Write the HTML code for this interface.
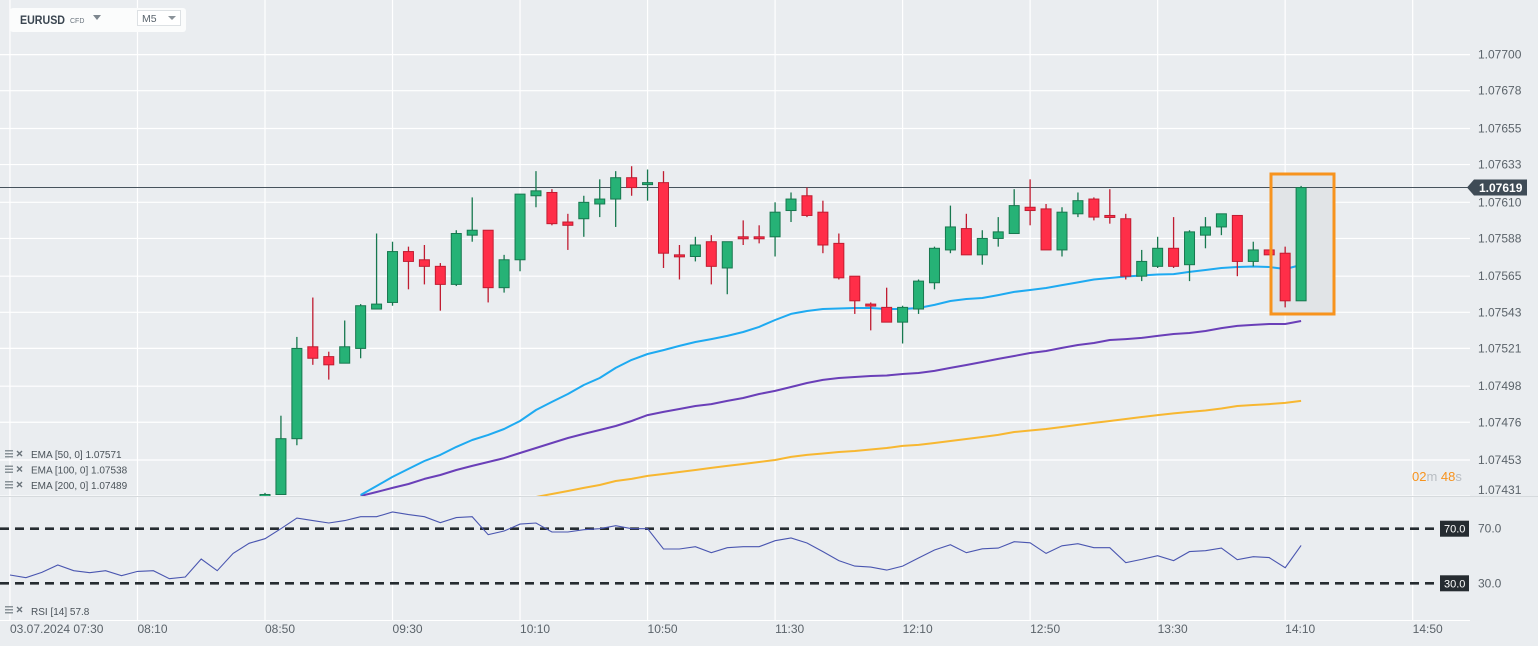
<!DOCTYPE html>
<html><head><meta charset="utf-8"><style>
html,body{margin:0;padding:0;background:#eaedf0;}
svg{display:block;font-family:"Liberation Sans",sans-serif;}
</style></head><body>
<svg id="chart" width="1538" height="646" viewBox="0 0 1538 646">
<rect x="0" y="0" width="1538" height="646" fill="#eaedf0"/>
<defs><clipPath id="pc"><rect x="0" y="0" width="1470" height="496"/></clipPath></defs>
<g id="grid"></g>
<g id="rsiPane"></g>
<g id="pricePane" clip-path="url(#pc)"></g>
<g id="axes"></g>
<g id="header">
  <rect x="10" y="8" width="176" height="24" rx="3" fill="#fbfcfc"/>
  <text x="20" y="24" font-size="12" font-weight="bold" fill="#3a4550" textLength="45" lengthAdjust="spacingAndGlyphs">EURUSD</text>
  <text x="70" y="23" font-size="7" fill="#6a747d">CFD</text>
  <path d="M93 15 L101 15 L97 20 Z" fill="#7d868e"/>
  <rect x="137.5" y="10.5" width="43" height="15" fill="#fff" stroke="#dde1e4"/>
  <text x="142" y="22" font-size="10.5" fill="#5a646d">M5</text>
  <path d="M168 16 L176 16 L172 20 Z" fill="#8a9299"/>
</g>
<g id="legend"></g>
</svg>
<script>
const priceTicks = ["1.07700","1.07678","1.07655","1.07633","1.07610","1.07588","1.07565","1.07543","1.07521","1.07498","1.07476","1.07453","1.07431"];
const timeLabels = ["03.07.2024  07:30","08:10","08:50","09:30","10:10","10:50","11:30","12:10","12:50","13:30","14:10","14:50"];
const timeTickMinutes = [450,490,530,570,610,650,690,730,770,810,850,890];
const candleStartMinute = 530;
const open  = [107431,107432,107466,107522,107516,107512,107521,107545,107549,107580,107575,107571,107560,107590,107593,107558,107575,107614,107616,107598,107600,107609,107612,107625,107621,107622,107578,107577,107586,107570,107589,107589,107589,107605,107614,107604,107585,107565,107548,107546,107537,107545,107561,107581,107594,107578,107588,107591,107607,107606,107581,107603,107612,107602,107600,107565,107571,107582,107572,107590,107595,107602,107574,107581,107579,107550];
const high  = [107433,107480,107528,107552,107519,107538,107548,107591,107586,107583,107584,107573,107593,107613,107593,107578,107615,107629,107618,107603,107614,107624,107629,107632,107630,107629,107584,107589,107590,107586,107599,107596,107610,107616,107619,107611,107591,107565,107549,107558,107547,107563,107583,107608,107603,107593,107601,107618,107624,107609,107607,107616,107613,107618,107603,107581,107589,107601,107593,107601,107603,107602,107586,107581,107583,107620];
const low   = [107431,107432,107462,107511,107502,107512,107515,107545,107547,107557,107560,107544,107559,107586,107549,107555,107568,107607,107596,107581,107589,107601,107595,107614,107611,107570,107563,107574,107560,107554,107584,107585,107577,107598,107601,107579,107563,107542,107532,107537,107524,107542,107557,107579,107578,107572,107583,107591,107596,107581,107577,107601,107599,107597,107563,107562,107570,107570,107562,107582,107590,107565,107571,107578,107546,107550];
const close = [107432,107466,107521,107515,107511,107522,107547,107548,107580,107574,107571,107560,107591,107593,107558,107575,107615,107617,107597,107596,107610,107612,107625,107619,107622,107579,107577,107584,107571,107586,107588,107588,107604,107612,107602,107584,107564,107550,107547,107537,107546,107562,107582,107595,107578,107588,107592,107608,107605,107581,107604,107611,107601,107601,107565,107574,107582,107571,107592,107595,107603,107574,107581,107578,107550,107619];
const ema50 = [null,null,null,null,null,null,107431.7,107437.2,107442.7,107447.6,107452.4,107456.1,107461,107465.2,107468.3,107471.9,107476.8,107483.5,107488.4,107493.2,107498.7,107503,107509.1,107514,107517.6,107520,107522.5,107524.9,107526.7,107528.6,107531,107534.1,107538.3,107542,107543.8,107545,107545.3,107545.6,107545.6,107545,107545,107545.6,107547.5,107549.9,107551.1,107551.7,107553.5,107555.4,107556.6,107557.8,107559.6,107561.2,107563,107563.9,107564.8,107565.4,107566,107566.3,107567.6,107568.8,107570,107570.6,107570.9,107570.6,107569.4,107571.8];
const ema100 = [null,null,null,null,null,null,107431.1,107433.5,107436,107438.4,107441.5,107443.9,107446.9,107449.4,107451.8,107454.2,107457.3,107460.3,107463.4,107466.4,107468.9,107471.3,107473.7,107476.8,107480.4,107482.3,107484.1,107485.9,107487.1,107489,107490.8,107493.2,107495.1,107497.5,107499.9,107501.8,107503,107503.6,107504.2,107504.5,107505.4,107506,107507.3,107509.1,107510.9,107512.7,107514.6,107516.4,107518.2,107519.4,107521.3,107523.1,107524.3,107526.1,107526.7,107527.4,107528.6,107529.8,107530.4,107531.6,107533.4,107534.7,107535.3,107535.9,107535.9,107537.7];
const ema200 = [null,null,null,null,null,null,null,null,null,null,null,null,null,null,null,null,null,107430.5,107432.3,107434.1,107436,107437.8,107440.2,107441.5,107443.3,107444.5,107445.7,107446.9,107448.2,107449.4,107450.6,107451.8,107453,107454.9,107456.1,107457,107457.9,107458.5,107459.4,107460.3,107461.6,107462.2,107463.4,107464.6,107465.8,107467,107468.3,107470.1,107471,107471.9,107473.1,107474.4,107475.6,107476.8,107478,107479.2,107480.4,107481.4,107482.3,107483.2,107484.4,107485.9,107486.5,107487.1,107487.8,107489];
const rsiStartMinute = 450;
const rsi = [36.1,34.1,38,43.4,39.2,37.8,39.2,35.6,38.7,39.2,33.4,34.6,47.8,39.2,51.9,59.3,62.7,70,77.8,75.9,74.2,75.9,78.8,78.8,82.2,80.3,78.8,74.4,78.1,78.8,65.6,68.3,73.4,74.2,67.6,67.6,69.3,70,72.2,70,70,55.1,55.1,56.8,52.4,56.1,56.8,56.8,61.2,63.2,59.5,53.2,46.6,42.6,41.9,39.7,42.6,48.5,54.4,58.3,52.4,55.3,55.8,60.5,59.7,51.9,57.5,59,56.1,56.1,45.1,47.5,50.2,46.6,53.2,53.9,55.8,47.3,49.5,48.8,41.4,57.8];
const rsiLevels = [70, 30];
const lastPrice = 1.07619;
const legendEntries = ["EMA [50, 0] 1.07571","EMA [100, 0] 1.07538","EMA [200, 0] 1.07489"];

const NS = "http://www.w3.org/2000/svg";
function xTime(min){ return 265 + (min - 530) * 3.188; }
function xCandle(i){ return xTime(candleStartMinute + 5*i); }
function yPrice(p){ if (p > 10) p = p/100000; return 54.6 + (1.07700 - p) * 164140; }
function yRsi(r){ return 528.7 + (70 - r) * 1.365; }
function mk(tag, attrs, parent){ const e=document.createElementNS(NS,tag); for(const k in attrs) e.setAttribute(k,attrs[k]); parent.appendChild(e); return e; }

const grid = document.getElementById('grid');
const axes = document.getElementById('axes');
const pp = document.getElementById('pricePane');
const rp = document.getElementById('rsiPane');
const lg = document.getElementById('legend');

priceTicks.forEach((t,i)=>{
  const y = yPrice(parseFloat(t));
  const l = mk('line',{x1:0,x2:1470,y1:y,y2:y,stroke:'#ffffff','stroke-width':1.2},grid);
  
  
  const ty = Math.min(y+4, 494);
  const tx = mk('text',{x:1478,y:ty,'font-size':12,fill:'#5b636a'},axes);
  tx.textContent = t;
  
  
});
timeTickMinutes.forEach((m,i)=>{
  const x = xTime(m);
  const l = mk('line',{x1:x,x2:x,y1:0,y2:620,stroke:'#ffffff','stroke-width':1.2},grid);
  
  
  const tx = mk('text',{x: i===0 ? 10 : x, y:633,'font-size':12,fill:'#5b636a'},axes);
  tx.textContent = timeLabels[i];
  
  
});
const sep = mk('line',{x1:0,x2:1538,y1:496.5,y2:496.5,stroke:'#d6dadd','stroke-width':1},axes);


const bl = mk('line',{x1:0,x2:1470,y1:620.5,y2:620.5,stroke:'#ffffff','stroke-width':1},axes);



const hb = mk('rect',{x:1271,y:174,width:63,height:140,fill:'#e1e4e7'},pp);



const ly = yPrice(lastPrice);
const pl = mk('line',{x1:0,x2:1470,y1:ly,y2:ly,stroke:'#46525c','stroke-width':1},pp);



function drawLine(arr, color, name){
  let d='';
  arr.forEach((v,i)=>{ if(v===null) return; d += (d===''?'M':'L') + xCandle(i).toFixed(1)+' '+yPrice(v).toFixed(1)+' '; });
  const p = mk('path',{d:d,fill:'none',stroke:color,'stroke-width':2,'stroke-linejoin':'round'},pp);
  
  
}
drawLine(ema200,'#f7b731','ema-200-line');
drawLine(ema100,'#6a3fb8','ema-100-line');
drawLine(ema50,'#1eaaf1','ema-50-line');

open.forEach((o,i)=>{
  const c = close[i], h = high[i], lo = low[i];
  const up = c >= o;
  const fill = up ? '#26b276' : '#ff2e48';
  const stroke = up ? '#17784f' : '#c01c31';
  const x = xCandle(i);
  const g = mk('g',{},pp);
  
  
  mk('line',{x1:x,x2:x,y1:yPrice(h),y2:yPrice(lo),stroke:stroke,'stroke-width':1.3},g);
  const yt = yPrice(Math.max(o,c)), yb = yPrice(Math.min(o,c));
  mk('rect',{x:x-5,y:yt,width:10,height:Math.max(yb-yt,2),fill:fill,stroke:stroke,'stroke-width':1},g);
});

const hbb = mk('rect',{x:1271,y:174,width:63,height:140,fill:'none',stroke:'#f7931e','stroke-width':3},pp);



const lpg = mk('g',{},axes);


mk('path',{d:`M1467 ${ly} L1474 ${ly-8} L1527 ${ly-8} L1527 ${ly+8} L1474 ${ly+8} Z`,fill:'#3f4b56'},lpg);
const lpt = mk('text',{x:1479,y:ly+4.5,'font-size':12,'font-weight':'bold',fill:'#ffffff'},lpg);
lpt.textContent = lastPrice.toFixed(5);

const cd = mk('text',{x:1412,y:481,'font-size':13},axes);


cd.innerHTML = '<tspan fill="#f7931e">02</tspan><tspan fill="#b8bdc2">m </tspan><tspan fill="#f7931e">48</tspan><tspan fill="#b8bdc2">s</tspan>';

rsiLevels.forEach(v=>{
  const y = yRsi(v);
  const l = mk('line',{x1:0,x2:1437,y1:y,y2:y,stroke:'#262c31','stroke-width':2.6,'stroke-dasharray':'9 6'},rp);
  
  
  const b = mk('rect',{x:1440,y:y-8,width:29,height:16,fill:'#262c31'},rp);
  
  
  const bt = mk('text',{x:1444,y:y+4,'font-size':11,fill:'#ffffff'},rp);
  bt.textContent = v.toFixed(1);
  
  
  const at = mk('text',{x:1478,y:y+4,'font-size':12,fill:'#5b636a'},rp);
  at.textContent = v.toFixed(1);
  
  
});
let rd='';
rsi.forEach((v,i)=>{ rd += (i?'L':'M') + xTime(rsiStartMinute+5*i).toFixed(1)+' '+yRsi(v).toFixed(1)+' '; });
const rl = mk('path',{d:rd,fill:'none',stroke:'#4a56b0','stroke-width':1.1},rp);



function legendIcon(x,y){
  mk('rect',{x:x,y:y,width:8,height:1.5,fill:'#8a9399'},lg);
  mk('rect',{x:x,y:y+3,width:8,height:1.5,fill:'#8a9399'},lg);
  mk('rect',{x:x,y:y+6,width:8,height:1.5,fill:'#8a9399'},lg);
  mk('path',{d:`M${x+12} ${y+1} l5 5 M${x+17} ${y+1} l-5 5`,stroke:'#6a737a','stroke-width':1.4},lg);
}
legendEntries.forEach((t,i)=>{
  const y = 450 + i*15.5;
  legendIcon(5,y);
  const tx = mk('text',{x:31,y:y+8,'font-size':10,fill:'#4a5259'},lg);
  tx.textContent = t;
  
  
});
legendIcon(5,606);
const rt = mk('text',{x:31,y:615,'font-size':10,fill:'#4a5259'},lg);
rt.textContent = 'RSI [14] ' + rsi[rsi.length-1].toFixed(1);


</script>
</body></html>
